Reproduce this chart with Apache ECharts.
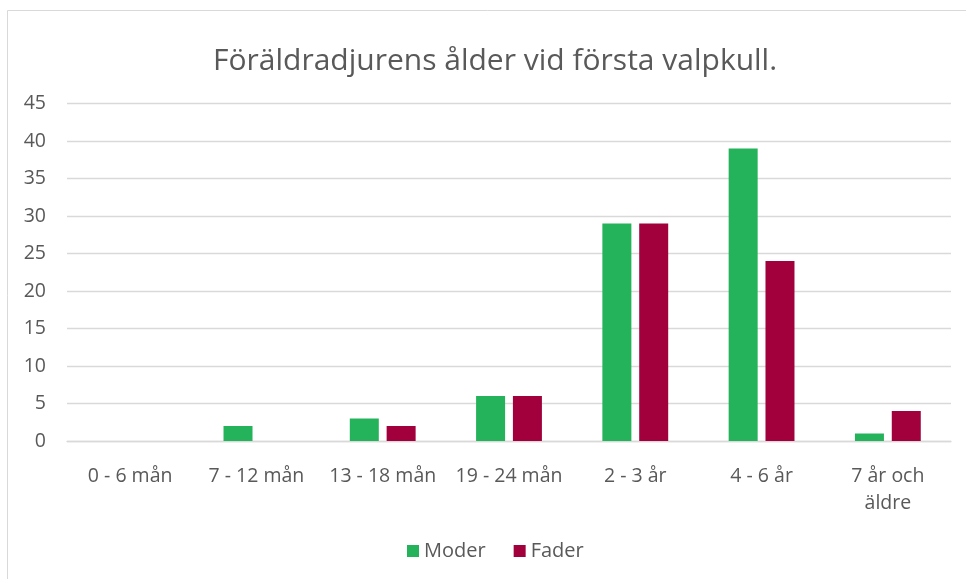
<!DOCTYPE html>
<html><head><meta charset="utf-8">
<script src="https://cdn.jsdelivr.net/npm/echarts@6/dist/echarts.min.js"></script>
<style>html,body{margin:0;padding:0;background:#fff}#c{width:966px;height:579px}</style>
</head><body><div id="c"></div>
<script>
var titleText = 'Föräldradjurens ålder vid första valpkull.';
var categories = ['0 - 6 mån', '7 - 12 mån', '13 - 18 mån', '19 - 24 mån', '2 - 3 år', '4 - 6 år', '7 år och\näldre'];
var moder = [0, 2, 3, 6, 29, 39, 1];
var fader = [0, 0, 2, 6, 29, 24, 4];
var seriesNames = ['Moder', 'Fader'];

var font = '"Open Sans", "Noto Sans", sans-serif';
var chart = echarts.init(document.getElementById('c'), null, {renderer: 'canvas'});
chart.setOption({
  animation: false,
  backgroundColor: '#fff',
  graphic: [{type: 'rect', shape: {x: 7.5, y: 10.5, width: 990, height: 600}, style: {fill: 'none', stroke: '#d9d9d9', lineWidth: 1}}],
  title: {text: titleText, left: 208, top: 41, textStyle: {fontFamily: font, fontSize: 30, fontWeight: 'normal', color: '#595959'}},
  legend: {data: seriesNames, bottom: 13, left: 402, itemWidth: 12, itemHeight: 12, itemGap: 28, icon: 'rect',
    textStyle: {fontFamily: font, fontSize: 20, color: '#595959'}},
  grid: {left: 67, right: 15, top: 103.5, bottom: 138, containLabel: false},
  xAxis: {type: 'category', data: categories,
    axisLine: {lineStyle: {color: '#d9d9d9', width: 1.3}}, axisTick: {show: false},
    axisLabel: {fontFamily: font, fontSize: 19.5, color: '#595959', margin: 22, lineHeight: 27, interval: 0}},
  yAxis: {type: 'value', min: 0, max: 45, interval: 5,
    axisLine: {show: false}, axisTick: {show: false},
    splitLine: {lineStyle: {color: '#d9d9d9', width: 1.3}},
    axisLabel: {fontFamily: font, fontSize: 19.5, color: '#595959', margin: 21}},
  series: [
    {name: seriesNames[0], type: 'bar', data: moder, barWidth: 29, barGap: '27%', itemStyle: {color: '#24B35A'}},
    {name: seriesNames[1], type: 'bar', data: fader, barWidth: 29, barGap: '27%', itemStyle: {color: '#A1003C'}}
  ]
});
</script></body></html>
